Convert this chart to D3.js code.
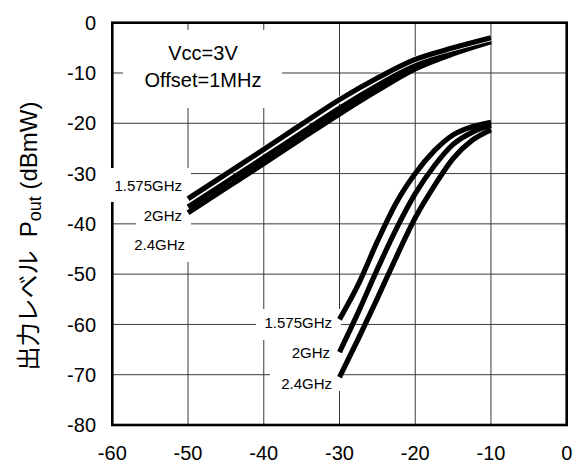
<!DOCTYPE html>
<html><head><meta charset="utf-8">
<script src="https://cdn.jsdelivr.net/npm/d3@7"></script>
<style>body{margin:0;background:#fff}</style>
</head><body>
<svg id="c" width="585" height="462"></svg>
<script>
// ---- data ----
const xTicks = [-60, -50, -40, -30, -20, -10, 0];
const yTicks = [0, -10, -20, -30, -40, -50, -60, -70, -80];

const upperX = [-50, -45, -40, -35, -30, -25, -20, -15, -10];
const upper1575 = [-35.0, -30.1, -25.2, -20.2, -15.3, -11.0, -7.3, -5.0, -3.0];
const upper2 = [-36.65, -31.75, -26.85, -21.9, -17.0, -12.5, -8.4, -5.6, -3.4];
const upper24 = [-37.8, -32.9, -28.0, -23.05, -18.15, -13.5, -9.2, -6.2, -3.8];

const lowerX = [-30, -27.5, -25, -22.5, -20, -17.5, -15, -12.5, -10];
const lower1575 = [-59, -52, -43.5, -35.8, -30, -25.5, -22.3, -20.7, -19.8];
const lower2 = [-65.5, -57.5, -49, -41, -34, -28.5, -24.2, -21.8, -20.4];
const lower24 = [-70.5, -62.8, -54.8, -46.6, -38.8, -32.5, -27, -23.4, -21.3];

const seriesNames = ["1.575GHz", "2GHz", "2.4GHz"];
const noteLines = ["Vcc=3V", "Offset=1MHz"];
const yTitleJa = "出力レベル";

// ---- drawing ----
const svg = d3.select("#c");
const font = "'Liberation Sans', Arial, sans-serif";
const x = d3.scaleLinear().domain([-60, 0]).range([112.3, 566.7]);
const y = d3.scaleLinear().domain([0, -80]).range([22.7, 425]);

// grid
const g = svg.append("g");
g.selectAll("line.v").data(xTicks.slice(1, -1)).join("line")
  .attr("x1", d => x(d)).attr("x2", d => x(d))
  .attr("y1", y(0)).attr("y2", y(-80))
  .attr("stroke", "#3a3a3a").attr("stroke-width", 1);
g.selectAll("line.h").data(yTicks.slice(1, -1)).join("line")
  .attr("y1", d => y(d)).attr("y2", d => y(d))
  .attr("x1", x(-60)).attr("x2", x(0))
  .attr("stroke", "#3a3a3a").attr("stroke-width", 1);

// border
svg.append("rect").attr("x", x(-60)).attr("y", y(0))
  .attr("width", x(0) - x(-60)).attr("height", y(-80) - y(0))
  .attr("fill", "none").attr("stroke", "#000").attr("stroke-width", 2.6);

// white label boxes
const boxes = [
  [123, 30, 159, 78],
  [106, 168, 85, 34],
  [136, 202, 55, 28],
  [122, 230, 69, 32],
  [256, 309, 85, 31],
  [283, 340, 58, 23],
  [270, 363, 71, 28]
];
svg.selectAll("rect.box").data(boxes).join("rect")
  .attr("x", d => d[0]).attr("y", d => d[1])
  .attr("width", d => d[2]).attr("height", d => d[3]).attr("fill", "#fff");

// curves
const line = d3.line().x(d => x(d[0])).y(d => y(d[1])).curve(d3.curveMonotoneX);
const curves = [
  {d: d3.zip(upperX, upper24), halo: false},
  {d: d3.zip(upperX, upper2), halo: false},
  {d: d3.zip(upperX, upper1575), halo: true},
  {d: d3.zip(lowerX, lower24), halo: false},
  {d: d3.zip(lowerX, lower2), halo: false},
  {d: d3.zip(lowerX, lower1575), halo: false}
];
curves.forEach(c => {
  if (c.halo) {
    svg.append("path").attr("d", line(c.d)).attr("fill", "none")
      .attr("stroke", "#fff").attr("stroke-width", 6.6);
  }
  svg.append("path").attr("d", line(c.d)).attr("fill", "none")
    .attr("stroke", "#000").attr("stroke-width", 5.2).attr("stroke-linecap", "butt");
});

// tick labels
svg.selectAll("text.yt").data(yTicks).join("text")
  .attr("x", 96).attr("y", d => y(d)).attr("dy", "0.36em")
  .attr("text-anchor", "end").attr("font-family", font).attr("font-size", 20)
  .text(d => d);
svg.selectAll("text.xt").data(xTicks).join("text")
  .attr("x", d => x(d)).attr("y", 459.5)
  .attr("text-anchor", "middle").attr("font-family", font).attr("font-size", 20)
  .text(d => d);

// note
svg.selectAll("text.note").data(noteLines).join("text")
  .attr("x", 203).attr("y", (d, i) => 60 + i * 26.5)
  .attr("text-anchor", "middle").attr("font-family", font).attr("font-size", 20)
  .text(d => d);

// series labels
const upLab = [[182, 190.5], [182, 220.5], [185, 250]];
const loLab = [[332, 328], [330, 358], [332, 389]];
seriesNames.forEach((n, i) => {
  svg.append("text").attr("x", upLab[i][0]).attr("y", upLab[i][1])
    .attr("text-anchor", "end").attr("font-family", font).attr("font-size", 15).text(n);
  svg.append("text").attr("x", loLab[i][0]).attr("y", loLab[i][1])
    .attr("text-anchor", "end").attr("font-family", font).attr("font-size", 15).text(n);
});

// y title
const yt = svg.append("text")
  .attr("transform", "translate(37,236) rotate(-90)")
  .attr("text-anchor", "middle").attr("font-family", font).attr("font-size", 24);
yt.append("tspan").attr("font-family", "'Noto Sans CJK JP', sans-serif").text(yTitleJa);
yt.append("tspan").text("\u00a0\u00a0P");
yt.append("tspan").attr("font-size", 18).attr("dy", 4).text("out");
yt.append("tspan").attr("dy", -4).text(" (dBmW)");
</script>
</body></html>
